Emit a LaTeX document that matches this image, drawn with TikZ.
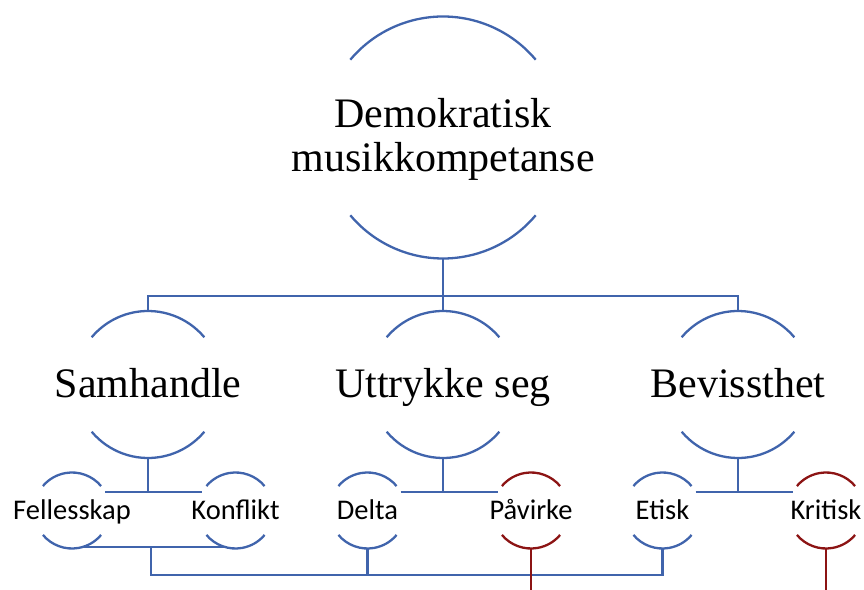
\documentclass[tikz,border=0pt]{standalone}
\usepackage{fontspec}
\setmainfont{Liberation Serif}
\newfontfamily\calfont{Carlito}
\usepackage{tikz}
\usetikzlibrary{calc}
\definecolor{ringblue}{RGB}{64,100,172}
\definecolor{ringred}{RGB}{140,20,20}
\tikzset{
  ring/.style={circle, draw=none, inner sep=0pt, outer sep=0pt, minimum size=2*#1},
  big/.style={font=\fontsize{42}{44}\selectfont, align=center, inner sep=0pt},
  small/.style={font=\calfont\fontsize{28.5}{30}\selectfont, inner sep=0pt},
  arcline/.style={line width=2.3pt},
  link/.style={draw=ringblue, line width=2.3pt},
  redlink/.style={draw=ringred, line width=2.3pt}
}
\begin{document}
\begin{tikzpicture}[x=1pt,y=1pt]
  \useasboundingbox (0,0) rectangle (864,589);
  % rings
  \node[ring=121] (demo) at (443,451.5) {};
  \node[ring=73.5] (sam) at (148,204.5) {};
  \node[ring=73.5] (utt) at (443,204.5) {};
  \node[ring=73.5] (bev) at (738,204.5) {};
  \node[ring=38] (fel) at (72,78.5) {};
  \node[ring=38] (kon) at (235.5,78.5) {};
  \node[ring=38] (del) at (367.5,78.5) {};
  \node[ring=38] (pav) at (531,78.5) {};
  \node[ring=38] (eti) at (662.5,78.5) {};
  \node[ring=38] (kri) at (826,78.5) {};
  % labels
  \node[big] (demo-t) at ([yshift=-2]demo.center) {Demokratisk\\musikkompetanse};
  \node[big, anchor=base] (sam-t) at ([yshift=-13.5]sam.center) {Samhandle};
  \node[big, anchor=base] (utt-t) at ([yshift=-13.5]utt.center) {Uttrykke seg};
  \node[big, anchor=base] (bev-t) at ([yshift=-13.5]bev.center) {Bevissthet};
  \node[small, anchor=base] (fel-t) at ([yshift=-9.5]fel.center) {Fellesskap};
  \node[small, anchor=base] (kon-t) at ([yshift=-9.5]kon.center) {Konflikt};
  \node[small, anchor=base] (del-t) at ([yshift=-9.5]del.center) {Delta};
  \node[small, anchor=base] (pav-t) at ([yshift=-9.5]pav.center) {Påvirke};
  \node[small, anchor=base] (eti-t) at ([yshift=-9.5]eti.center) {Etisk};
  \node[small, anchor=base] (kri-t) at ([yshift=-9.5]kri.center) {Kritisk};
  % arcs
  \foreach \n/\r/\c in {demo/121/ringblue, sam/73.5/ringblue, utt/73.5/ringblue,
      bev/73.5/ringblue, fel/38/ringblue, kon/38/ringblue, del/38/ringblue,
      pav/38/ringred, eti/38/ringblue, kri/38/ringred}
    \draw[arcline, draw=\c] (\n.40) arc[start angle=40, end angle=140, radius=\r]
      (\n.220) arc[start angle=220, end angle=320, radius=\r];
  % connectors
  \draw[link] (demo.south) -- ++(0,-37.5) coordinate (bus);
  \draw[link] (sam.north) |- (bus) -| (bev.north);
  \draw[link] (bus) -- (utt.north);
  \foreach \p/\a/\b in {sam/fel/kon, utt/del/pav, bev/eti/kri} {
    \draw[link] (\a.29) -- (\b.151);
    \draw[link] (\p.south) -- (\p.south |- \a.29);
  }
  \draw[link] (fel.-73) -- (kon.-107);
  \coordinate (fk) at ([xshift=-3]$(fel.-73)!0.5!(kon.-107)$);
  \draw[link] (fk) -- ++(0,-28) coordinate (low) -| (eti.south);
  \draw[link] (del.south) -- (del.south |- low);
  \draw[redlink] (pav.south) -- ++(0,-41);
  \draw[redlink] (kri.south) -- ++(0,-41);
\end{tikzpicture}
\end{document}
